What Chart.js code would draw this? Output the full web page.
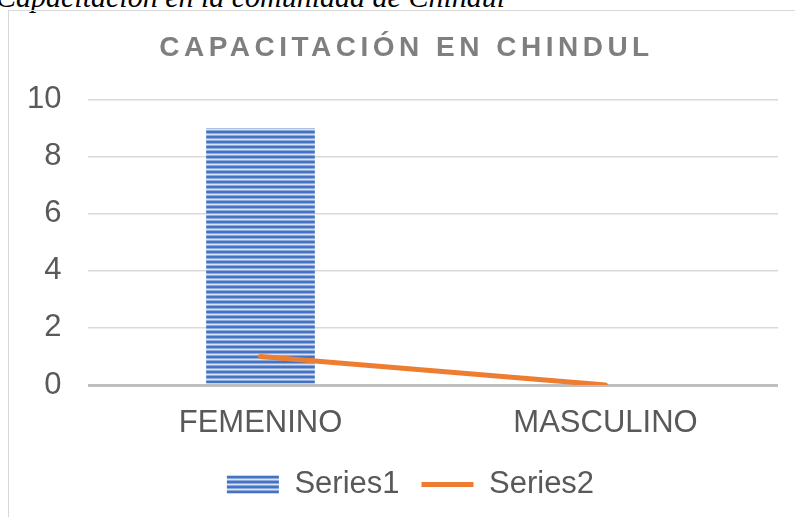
<!DOCTYPE html>
<html>
<head>
<meta charset="utf-8">
<script src="https://cdn.jsdelivr.net/npm/chart.js@4/dist/chart.umd.min.js"></script>
<style>
  html, body { margin: 0; padding: 0; background: #fff; overflow: hidden; }
  body { width: 795px; height: 517px; position: relative; }
  #caption {
    position: absolute; left: -4px; top: -18px;
    font-family: "Liberation Serif", serif; font-style: italic; font-size: 30px; line-height: 30px;
    color: #000; white-space: nowrap;
  }
  #box {
    position: absolute; left: 8px; top: 10px; width: 787px; height: 507px;
    border-left: 1px solid #d9d9d9; border-top: 1px solid #d9d9d9;
  }
</style>
</head>
<body>
<div id="caption">Capacitación en la comunidad de Chindul</div>
<div id="box"><canvas id="mycanvas"></canvas></div>
<script>
var categories = ["FEMENINO", "MASCULINO"];
var series1 = [9, 0];
var series2 = [1, 0];
var yMin = 0, yMax = 10, yStep = 2;

// horizontal stripes like the Excel fill
function stripes() {
	var c = document.createElement("canvas");
	c.width = 4; c.height = 5;
	var g = c.getContext("2d");
	var rows = ["#4472c4", "#4472c4", "#8eaadb", "#dae3f3", "#8eaadb"];
	for (var i = 0; i < rows.length; i++) {
		g.fillStyle = rows[i];
		g.fillRect(0, i, 4, 1);
	}
	return g.createPattern(c, "repeat");
}

// spaced title, and nudge legend/title a little right like the original
var tweaks = {
	id: "tweaks",
	afterInit: function(chart) {
		var t = chart.titleBlock;
		if (!t || t._spaced) return;
		var orig = t.draw;
		t.draw = function() {
			var ctx = this.ctx;
			ctx.save();
			ctx.letterSpacing = "4.5px";
			orig.apply(this, arguments);
			ctx.restore();
		};
		t._spaced = true;
	},
	afterLayout: function(chart) {
		if (chart.legend) { chart.legend.left += 8; chart.legend.right += 8; }
		if (chart.titleBlock) { chart.titleBlock.left += 4; chart.titleBlock.right += 4; }
	}
};

Chart.defaults.font.family = "'Liberation Sans', Arial, sans-serif";
Chart.defaults.color = "#595959";

var ctx = document.getElementById("mycanvas");
var chart = new Chart(ctx, {
	type: "bar",
	data: {
		labels: categories,
		datasets: [
			{
				type: "bar",
				label: "Series1",
				data: series1,
				backgroundColor: stripes(),
				borderWidth: 0,
				pointStyle: "rect",
				categoryPercentage: 0.63,
				barPercentage: 0.5,
				order: 2
			},
			{
				type: "line",
				label: "Series2",
				data: series2,
				borderColor: "#ed7d31",
				backgroundColor: "#ed7d31",
				borderWidth: 5,
				borderCapStyle: "round",
				pointRadius: 0,
				pointStyle: "line",
				tension: 0,
				fill: false,
				order: 1
			}
		]
	},
	options: {
		responsive: true,
		maintainAspectRatio: false,
		animation: false,
		events: [],
		layout: { padding: { left: 18, right: 18, top: 0, bottom: 8 } },
		plugins: {
			title: {
				display: true,
				text: "CAPACITACIÓN EN CHINDUL",
				color: "#7f7f7f",
				font: { size: 28, weight: "bold" },
				padding: { top: 20, bottom: 35 }
			},
			legend: {
				position: "bottom",
				labels: {
					usePointStyle: true,
					pointStyleWidth: 52,
					boxHeight: 18,
					padding: 22,
					font: { size: 31 },
					color: "#595959",
					sort: function(a, b) { return a.datasetIndex - b.datasetIndex; }
				}
			},
			tooltip: { enabled: false }
		},
		scales: {
			x: {
				grid: { display: false, drawTicks: false },
				border: { display: false },
				ticks: { font: { size: 31 }, color: "#595959", padding: 20 },
				afterFit: function(s) { s.paddingLeft = 0; s.paddingRight = 0; s.height = 62; }
			},
			y: {
				min: yMin,
				max: yMax,
				border: { display: false },
				grid: {
					drawTicks: false,
					color: function(c) { return c.tick && c.tick.value === 0 ? "#bfbfbf" : "#d9d9d9"; },
					lineWidth: function(c) { return c.tick && c.tick.value === 0 ? 3 : 1.5; }
				},
				ticks: { stepSize: yStep, font: { size: 31 }, color: "#595959", padding: 26.5 },
				afterFit: function(s) { s.width = 61; }
			}
		}
	},
	plugins: [tweaks]
});
</script>
</body>
</html>
